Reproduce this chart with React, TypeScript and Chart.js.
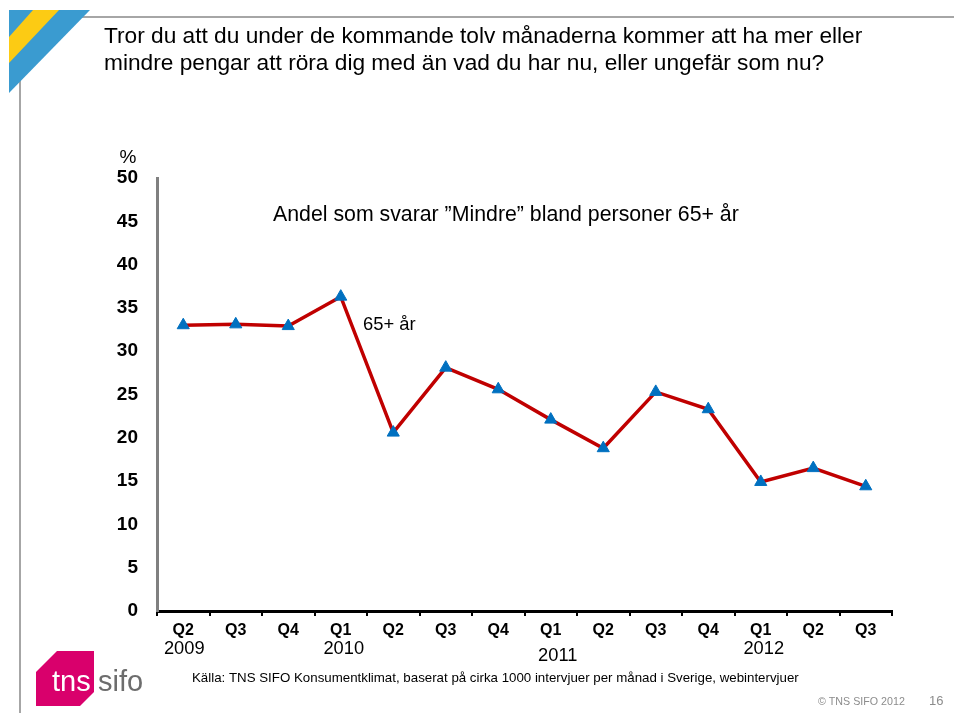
import React, { useEffect, useRef } from "react";
import { Chart, registerables } from "chart.js";

Chart.register(...registerables);

const quarters = ["Q2", "Q3", "Q4", "Q1", "Q2", "Q3", "Q4", "Q1", "Q2", "Q3", "Q4", "Q1", "Q2", "Q3"];
const values = [33.0, 33.1, 32.9, 36.3, 20.6, 28.1, 25.6, 22.1, 18.8, 25.3, 23.3, 14.9, 16.5, 14.4];
const years = ["2009", "2010", "2011", "2012"];
const yearAt = [0, 3, 7, 11];
const titleLines = [
  "Tror du att du under de kommande tolv månaderna kommer att ha mer eller",
  "mindre pengar att röra dig med än vad du har nu, eller ungefär som nu?",
];
const subtitle = "Andel som svarar ”Mindre” bland personer 65+ år";
const seriesLabel = "65+ år";
const source = "Källa: TNS SIFO Konsumentklimat, baserat på cirka 1000 intervjuer per månad i Sverige, webintervjuer";

const FONT = "'Liberation Sans', Arial, Helvetica, sans-serif";

const decor = {
  id: "decor",
  beforeDraw(chart: any) {
    const ctx = chart.ctx;
    ctx.save();
    ctx.fillStyle = "#fff";
    ctx.fillRect(0, 0, chart.width, chart.height);
    // frame lines
    ctx.strokeStyle = "#a6a6a6";
    ctx.lineWidth = 2;
    ctx.beginPath();
    ctx.moveTo(9, 17);
    ctx.lineTo(954, 17);
    ctx.moveTo(20, 10);
    ctx.lineTo(20, 713);
    ctx.stroke();
    // corner triangle
    ctx.fillStyle = "#3a9bd0";
    ctx.beginPath();
    ctx.moveTo(9, 10);
    ctx.lineTo(90, 10);
    ctx.lineTo(9, 93);
    ctx.closePath();
    ctx.fill();
    ctx.fillStyle = "#fccb14";
    ctx.beginPath();
    ctx.moveTo(33, 10);
    ctx.lineTo(59, 10);
    ctx.lineTo(9, 63);
    ctx.lineTo(9, 37);
    ctx.closePath();
    ctx.fill();
    // title
    ctx.fillStyle = "#000";
    ctx.font = `22.7px ${FONT}`;
    ctx.textAlign = "left";
    ctx.textBaseline = "middle";
    ctx.fillText(titleLines[0], 104, 37);
    ctx.fillText(titleLines[1], 104, 64);
    ctx.restore();
  },
  afterDraw(chart: any) {
    const ctx = chart.ctx;
    const xs = chart.scales.x;
    ctx.save();
    ctx.fillStyle = "#000";
    ctx.textBaseline = "middle";
    // percent sign
    ctx.font = `19px ${FONT}`;
    ctx.textAlign = "center";
    ctx.fillText("%", 128, 158);
    // years
    ctx.font = `18.3px ${FONT}`;
    years.forEach((y, i) => {
      const idx = yearAt[i];
      const px = xs.getPixelForValue(idx) + (i === 2 ? 7 : i === 0 ? 1 : 3);
      const py = i === 2 ? 656 : 649;
      ctx.fillText(y, px, py);
    });
    // annotation
    ctx.textAlign = "left";
    ctx.font = `21.3px ${FONT}`;
    ctx.fillText(subtitle, 273, 215);
    ctx.font = `18.4px ${FONT}`;
    ctx.fillText(seriesLabel, 363, 325);
    // source
    ctx.font = `13.3px ${FONT}`;
    ctx.fillText(source, 192, 678);
    // footer
    ctx.fillStyle = "#8c8c8c";
    ctx.font = `10.7px ${FONT}`;
    ctx.fillText("© TNS SIFO 2012", 818, 702);
    ctx.font = `13px ${FONT}`;
    ctx.fillText("16", 929, 701);
    // logo
    ctx.fillStyle = "#d9006c";
    ctx.beginPath();
    ctx.moveTo(36, 672);
    ctx.lineTo(57, 651);
    ctx.lineTo(94, 651);
    ctx.lineTo(94, 692);
    ctx.lineTo(80, 706);
    ctx.lineTo(36, 706);
    ctx.closePath();
    ctx.fill();
    ctx.font = `29px ${FONT}`;
    ctx.textBaseline = "alphabetic";
    ctx.fillStyle = "#fff";
    ctx.fillText("tns", 52, 691);
    ctx.fillStyle = "#6d6d6d";
    ctx.fillText("sifo", 98, 691);
    ctx.restore();
  },
};

export default function App() {
  const ref = useRef<HTMLCanvasElement | null>(null);
  useEffect(() => {
    if (!ref.current) return;
    const chart = new Chart(ref.current, {
      type: "line",
      data: {
        labels: quarters,
        datasets: [
          {
            label: seriesLabel,
            data: values,
            borderColor: "#c00000",
            borderWidth: 3.5,
            pointStyle: "triangle",
            pointRadius: 7,
            pointBackgroundColor: "#0070c0",
            pointBorderColor: "#0070c0",
            pointBorderWidth: 1,
            tension: 0,
            clip: false as any,
          },
        ],
      },
      options: {
        responsive: false,
        animation: false,
        layout: { padding: { left: 0, top: 178, right: 62, bottom: 0 } },
        plugins: { legend: { display: false }, tooltip: { enabled: false }, title: { display: false } },
        scales: {
          x: {
            type: "category",
            offset: true,
            afterFit: (s: any) => {
              s.height = 102;
            },
            grid: {
              display: true,
              drawOnChartArea: false,
              drawTicks: true,
              tickLength: 5,
              color: "#000",
              lineWidth: 2,
              offset: true,
            },
            border: { display: true, color: "#000", width: 3 },
            ticks: {
              color: "#000",
              font: { family: FONT, size: 16, weight: "bold" },
              padding: 5,
              maxRotation: 0,
              autoSkip: false,
            },
          },
          y: {
            min: 0,
            max: 50,
            afterFit: (s: any) => {
              s.width = 157;
            },
            grid: { display: false, drawTicks: false },
            border: { display: true, color: "#808080", width: 3 },
            ticks: {
              stepSize: 5,
              color: "#000",
              padding: 19,
              font: { family: FONT, size: 19, weight: "bold" },
            },
          },
        },
      },
      plugins: [decor],
    });
    return () => chart.destroy();
  }, []);
  return (
    <div style={{ position: "absolute", left: 0, top: 0, width: 954, height: 713 }}>
      <canvas ref={ref} width={954} height={713} style={{ display: "block" }} />
    </div>
  );
}
